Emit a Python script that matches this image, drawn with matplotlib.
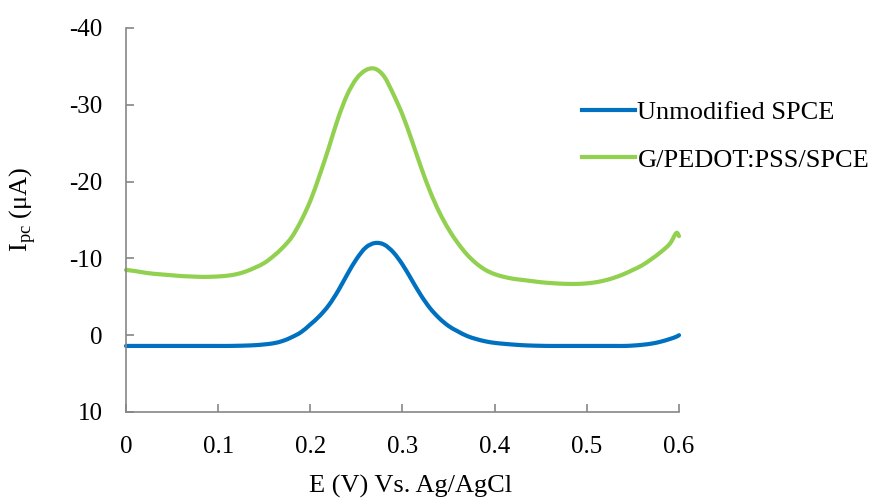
import matplotlib
matplotlib.use("Agg")
import matplotlib.pyplot as plt
from matplotlib.path import Path
from matplotlib.patches import PathPatch
from matplotlib.lines import Line2D

plt.rcParams['font.family'] = ['Liberation Serif', 'DejaVu Serif']
plt.rcParams['axes.unicode_minus'] = False
plt.rcParams['mathtext.fontset'] = 'custom'
plt.rcParams['mathtext.rm'] = 'Liberation Serif'

# Potential (V vs. Ag/AgCl)
potential = [0.00, 0.01, 0.02, 0.03, 0.04, 0.05, 0.06, 0.07, 0.08, 0.09,
             0.10, 0.11, 0.12, 0.13, 0.14, 0.15, 0.16, 0.17, 0.18, 0.19,
             0.20, 0.21, 0.22, 0.23, 0.24, 0.25, 0.26, 0.27, 0.28, 0.29,
             0.30, 0.31, 0.32, 0.33, 0.34, 0.35, 0.36, 0.37, 0.38, 0.39,
             0.40, 0.41, 0.42, 0.43, 0.44, 0.45, 0.46, 0.47, 0.48, 0.49,
             0.50, 0.51, 0.52, 0.53, 0.54, 0.55, 0.56, 0.57, 0.58, 0.59,
             0.597, 0.600]

# Cathodic peak current, unmodified SPCE (uA)
i_unmodified = [1.4, 1.4, 1.4, 1.4, 1.4, 1.4, 1.4, 1.4, 1.4, 1.4,
                1.4, 1.4, 1.38, 1.35, 1.3, 1.2, 1.05, 0.75, 0.25, -0.4,
                -1.4, -2.5, -3.9, -5.75, -7.9, -9.9, -11.4, -12.0, -11.8, -10.8,
                -9.2, -7.2, -5.2, -3.5, -2.2, -1.2, -0.5, 0.1, 0.5, 0.8,
                1.0, 1.12, 1.22, 1.3, 1.35, 1.38, 1.4, 1.4, 1.4, 1.4,
                1.4, 1.4, 1.4, 1.4, 1.4, 1.35, 1.25, 1.1, 0.85, 0.5,
                0.2, 0.0]

# Cathodic peak current, G/PEDOT:PSS/SPCE (uA)
i_modified = [-8.5, -8.35, -8.15, -8.0, -7.9, -7.8, -7.7, -7.65, -7.6, -7.6,
              -7.65, -7.75, -7.95, -8.3, -8.8, -9.4, -10.3, -11.4, -12.8, -14.9,
              -17.5, -20.8, -24.4, -28.2, -31.3, -33.4, -34.5, -34.7, -33.7, -31.4,
              -28.7, -25.4, -21.9, -18.7, -16.0, -13.8, -12.0, -10.5, -9.35, -8.5,
              -7.95, -7.6, -7.35, -7.2, -7.05, -6.9, -6.8, -6.72, -6.68, -6.68,
              -6.75, -6.9, -7.15, -7.5, -7.95, -8.5, -9.1, -9.9, -10.8, -11.9,
              -13.3, -12.9]

series_labels = ["Unmodified SPCE", "G/PEDOT:PSS/SPCE"]
series_colors = ['#0070C0', '#92D050']
x_ticks = [0.0, 0.1, 0.2, 0.3, 0.4, 0.5, 0.6]
x_tick_labels = ["0", "0.1", "0.2", "0.3", "0.4", "0.5", "0.6"]
y_ticks = [-40, -30, -20, -10, 0, 10]
y_tick_labels = ["-40", "-30", "-20", "-10", "0", "10"]


def smooth_path(xs, ys):
    """Smoothed line through the points (Catmull-Rom as cubic Beziers)."""
    pts = list(zip(xs, ys))
    n = len(pts)
    verts = [pts[0]]
    codes = [Path.MOVETO]
    for i in range(n - 1):
        p0 = pts[i - 1] if i > 0 else pts[i]
        p1 = pts[i]
        p2 = pts[i + 1]
        p3 = pts[i + 2] if i + 2 < n else pts[i + 1]
        c1 = (p1[0] + (p2[0] - p0[0]) / 6, p1[1] + (p2[1] - p0[1]) / 6)
        c2 = (p2[0] - (p3[0] - p1[0]) / 6, p2[1] - (p3[1] - p1[1]) / 6)
        verts += [c1, c2, p2]
        codes += [Path.CURVE4] * 3
    return Path(verts, codes)


W, H = 879, 503
fig = plt.figure(figsize=(W / 100, H / 100), dpi=100)
ax = fig.add_axes([126 / W, 1 - 412 / H, (679 - 126) / W, (412 - 28) / H])

handles = []
for ys, color, label in zip([i_unmodified, i_modified], series_colors, series_labels):
    patch = PathPatch(smooth_path(potential, ys), facecolor='none', edgecolor=color,
                      lw=3.0, capstyle='round', joinstyle='round', clip_on=False)
    ax.add_patch(patch)
    handles.append(Line2D([], [], color=color, lw=3.0, label=label))

ax.set_xlim(0, 0.6)
ax.set_ylim(10, -40)
ax.set_xticks(x_ticks)
ax.set_xticklabels(x_tick_labels)
ax.set_yticks(y_ticks)
ax.set_yticklabels(y_tick_labels)

axis_grey = '#868686'
for side in ('top', 'right'):
    ax.spines[side].set_visible(False)
for side in ('left', 'bottom'):
    ax.spines[side].set_color(axis_grey)
    ax.spines[side].set_linewidth(1.2)
ax.tick_params(axis='both', direction='in', length=6, width=1.2,
               color=axis_grey, labelsize=18, labelcolor='#000000')
ax.tick_params(axis='y', pad=17)
ax.tick_params(axis='x', pad=17)

fig.text(411 / W, 1 - 486 / H, "E (V) Vs. Ag/AgCl", fontsize=19,
         ha='center', va='center')
fig.text(23 / W, 1 - 209 / H, r"I$_\mathregular{pc}$ (μA)", fontsize=19,
         rotation=90, ha='center', va='center')

ax.legend(handles=handles, loc='upper left', bbox_to_anchor=(582 / W, 1 - 101 / H),
          bbox_transform=fig.transFigure, frameon=False, fontsize=19,
          handlelength=2.0, handletextpad=0.1, labelspacing=0.9,
          borderpad=0, borderaxespad=0)

fig.savefig("out.png", dpi=100)
